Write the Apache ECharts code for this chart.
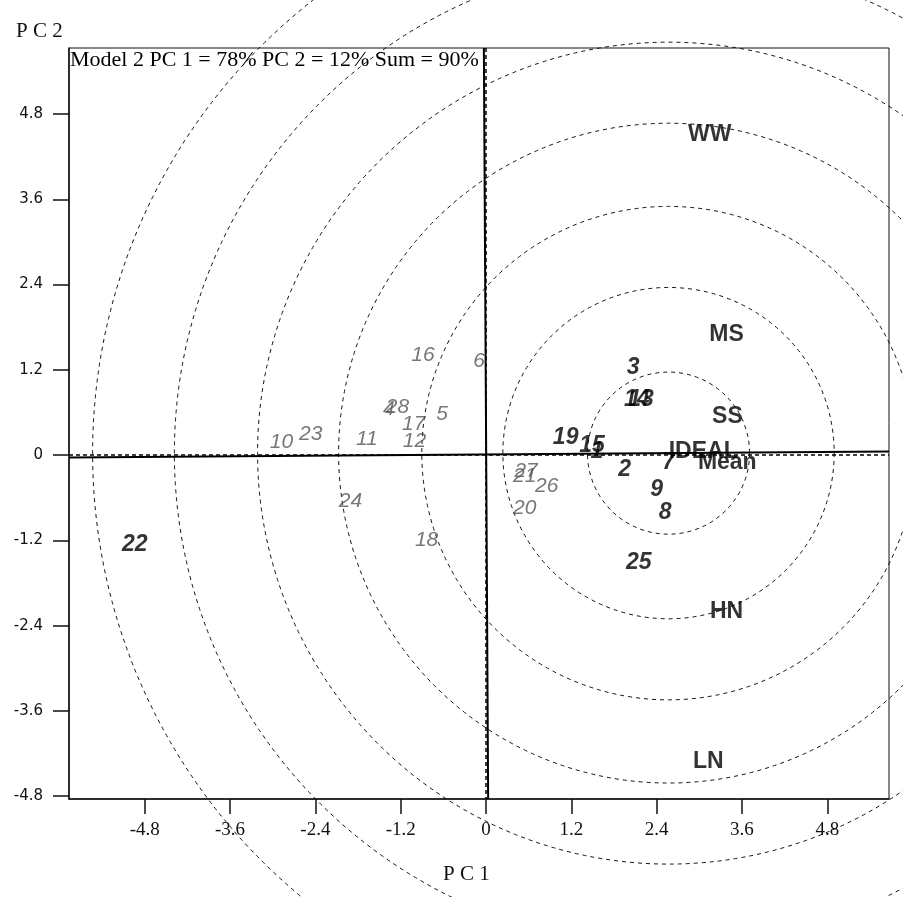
<!DOCTYPE html>
<html>
<head>
<meta charset="utf-8">
<script src="https://cdn.jsdelivr.net/npm/echarts@6/dist/echarts.min.js"></script>
<style>
html,body{margin:0;padding:0;background:#fff;}
#chart{width:903px;height:897px;}
</style>
</head>
<body>
<div id="chart"></div>
<script>
// ---- data ----
const xRange = [-5.865, 5.668];
const yRange = [-4.84, 5.73];
const xTicks = [-4.8, -3.6, -2.4, -1.2, 0, 1.2, 2.4, 3.6, 4.8];
const yTicks = [-4.8, -3.6, -2.4, -1.2, 0, 1.2, 2.4, 3.6, 4.8];

const envNames = ['WW', 'MS', 'SS', 'HN', 'LN', 'IDEAL', 'Mean'];
const envPC1 = [2.84, 3.14, 3.18, 3.15, 2.91, 2.57, 2.98];
const envPC2 = [4.51, 1.69, 0.54, -2.20, -4.31, 0.05, -0.11];

const boldNames = ['1', '2', '3', '7', '8', '9', '13', '14', '15', '19', '22', '25'];
const boldPC1 = [1.47, 1.86, 1.98, 2.48, 2.43, 2.31, 2.00, 1.94, 1.31, 0.94, -5.12, 1.97];
const boldPC2 = [0.05, -0.20, 1.23, -0.11, -0.81, -0.49, 0.78, 0.78, 0.14, 0.25, -1.26, -1.51];

const grayNames = ['4', '5', '6', '10', '11', '12', '16', '17', '18', '20', '21', '23', '24', '26', '27', '28'];
const grayPC1 = [-1.45, -0.70, -0.18, -3.04, -1.83, -1.17, -1.05, -1.18, -1.00, 0.38, 0.38, -2.63, -2.07, 0.69, 0.40, -1.41];
const grayPC2 = [0.65, 0.57, 1.32, 0.18, 0.22, 0.19, 1.41, 0.43, -1.19, -0.74, -0.30, 0.30, -0.65, -0.44, -0.22, 0.68];

const circleCenter = [2.567, 0.028];
const circleRadii = [1.14, 2.33, 3.47, 4.64, 5.78, 6.95, 8.10];

const pc1AxisSolid = [[-5.865, -0.035], [5.668, 0.05]];
const pc2AxisSolid = [[-0.03, 5.73], [0.03, -4.84]];
const pc1AxisDash = [[-5.865, 0], [5.668, 0]];
const pc2AxisDash = [[0, 5.73], [0, -4.84]];

const titleText = 'Model 2 PC 1 = 78% PC 2 = 12% Sum = 90%';
const xName = 'P C 1';
const yName = 'P C 2';

// ---- chart ----
const chart = echarts.init(document.getElementById('chart'), null, {renderer: 'canvas'});

function pts(names, xs, ys) {
  return names.map((n, i) => ({name: n, value: [xs[i], ys[i]]}));
}
function fmt(v) { return String(Math.round(v * 10) / 10); }

const labelSeries = (names, xs, ys, style) => ({
  type: 'scatter',
  data: pts(names, xs, ys),
  symbolSize: 0,
  silent: true,
  z: 10,
  label: Object.assign({
    show: true,
    position: 'right',
    distance: 0,
    formatter: p => p.name,
    verticalAlign: 'middle'
  }, style)
});

const option = {
  animation: false,
  backgroundColor: '#ffffff',
  grid: {left: 69, right: 14, top: 48, bottom: 98, show: true, borderColor: '#111', borderWidth: 1, containLabel: false},
  title: {
    text: titleText, left: 70, top: 49, padding: 0,
    textStyle: {fontFamily: 'Liberation Serif', fontSize: 22, fontWeight: 'normal', color: '#000'}
  },
  graphic: [
    {type: 'text', left: 16, top: 21, style: {text: yName, font: '21px "Liberation Serif"', fill: '#111'}},
    {type: 'text', left: 443, top: 864, style: {text: xName, font: '21px "Liberation Serif"', fill: '#111'}}
  ],
  xAxis: {
    type: 'value', min: xRange[0], max: xRange[1],
    axisLine: {show: true, onZero: false, lineStyle: {color: '#111', width: 1.5}},
    axisTick: {show: true, length: 15, customValues: xTicks, lineStyle: {color: '#111', width: 1.5}},
    axisLabel: {customValues: xTicks, formatter: fmt, margin: 22, fontFamily: 'Liberation Serif', fontSize: 19, color: '#111'},
    splitLine: {show: false}
  },
  yAxis: {
    type: 'value', min: yRange[0], max: yRange[1],
    axisLine: {show: true, onZero: false, lineStyle: {color: '#111', width: 1.5}},
    axisTick: {show: true, length: 16, customValues: yTicks, lineStyle: {color: '#111', width: 1.5}},
    axisLabel: {customValues: yTicks, formatter: fmt, margin: 26, fontFamily: 'DejaVu Sans', fontSize: 15, color: '#111'},
    splitLine: {show: false}
  },
  series: [
    {
      type: 'custom',
      clip: false,
      silent: true,
      z: 1,
      data: circleRadii.map(r => [circleCenter[0], circleCenter[1], r]),
      encode: {x: 0, y: 1},
      renderItem: function (params, api) {
        const c = api.coord([api.value(0), api.value(1)]);
        const r = api.size([api.value(2), 0])[0];
        return {
          type: 'circle',
          shape: {cx: c[0], cy: c[1], r: r},
          style: {fill: null, stroke: '#111', lineWidth: 1, lineDash: [4, 4]},
          silent: true
        };
      }
    },
    {type: 'line', data: pc1AxisDash, symbol: 'none', silent: true, z: 2, lineStyle: {color: '#000', width: 1.5, type: [4, 3]}},
    {type: 'line', data: pc2AxisDash, symbol: 'none', silent: true, z: 2, lineStyle: {color: '#000', width: 1.5, type: [4, 3]}},
    {type: 'line', data: pc1AxisSolid, symbol: 'none', silent: true, z: 2, lineStyle: {color: '#000', width: 2}},
    {type: 'line', data: pc2AxisSolid, symbol: 'none', silent: true, z: 2, lineStyle: {color: '#000', width: 2}},
    labelSeries(envNames, envPC1, envPC2, {fontFamily: 'Liberation Sans', fontSize: 23, fontWeight: 'bold', color: '#000'}),
    labelSeries(boldNames, boldPC1, boldPC2, {fontFamily: 'Liberation Sans', fontSize: 23, fontWeight: 'bold', fontStyle: 'italic', color: '#000'}),
    labelSeries(grayNames, grayPC1, grayPC2, {fontFamily: 'Liberation Sans', fontSize: 21, fontStyle: 'italic', color: '#555'})
  ]
};
chart.setOption(option);
</script>
</body>
</html>
